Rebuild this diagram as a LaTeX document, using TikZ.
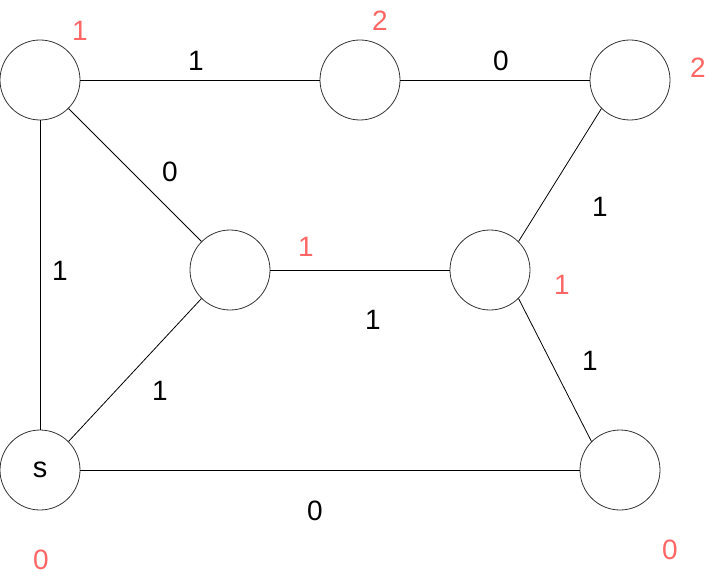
\documentclass[tikz,border=0pt]{standalone}
\usepackage{fontspec}
\setmainfont{Liberation Sans}
\definecolor{wred}{RGB}{255,102,102}
\begin{document}
\begin{tikzpicture}[x=1pt,y=-1pt,
  vtx/.style={circle,draw=black!80,line width=0.8pt,minimum size=80pt,inner sep=0pt,font=\fontsize{29}{34}\selectfont},
  edge/.style={line width=0.8pt,black},
  wlab/.style={inner sep=0pt,font=\fontsize{28}{34}\selectfont},
  dlab/.style={inner sep=0pt,text=wred,font=\fontsize{28}{34}\selectfont}]
\useasboundingbox (0,0) rectangle (719,580);
\node[vtx] (A) at (40,80) {};
\node[vtx] (B) at (360,80) {};
\node[vtx] (C) at (630,80) {};
\node[vtx] (D) at (230,270) {};
\node[vtx] (E) at (490,270) {};
\node[vtx] (S) at (40,470) {s};
\node[vtx] (F) at (620,470) {};
\draw[edge] (A) -- (B);
\draw[edge] (B) -- (C);
\draw[edge] (A.south east) -- (D.north west);
\draw[edge] (A) -- (S);
\draw[edge] (D) -- (E);
\draw[edge] (E.north east) -- (C.south west);
\draw[edge] (E.south east) -- (F.north west);
\draw[edge] (S.north east) -- (D.south west);
\draw[edge] (S) -- (F);
% edge weights
\node[wlab] (wAB) at (196,61) {1};
\node[wlab] (wBC) at (501,61) {0};
\node[wlab] (wAD) at (170,172) {0};
\node[wlab] (wAS) at (60,271) {1};
\node[wlab] (wDE) at (373,320) {1};
\node[wlab] (wCE) at (600,207) {1};
\node[wlab] (wEF) at (590,361) {1};
\node[wlab] (wDS) at (160,391) {1};
\node[wlab] (wSF) at (315,511) {0};
% distances
\node[dlab] (dA) at (80,31) {1};
\node[dlab] (dB) at (380,21) {2};
\node[dlab] (dC) at (698,68) {2};
\node[dlab] (dD) at (306,247) {1};
\node[dlab] (dE) at (562,285) {1};
\node[dlab] (dS) at (41,560) {0};
\node[dlab] (dF) at (670,550) {0};
\end{tikzpicture}
\end{document}
